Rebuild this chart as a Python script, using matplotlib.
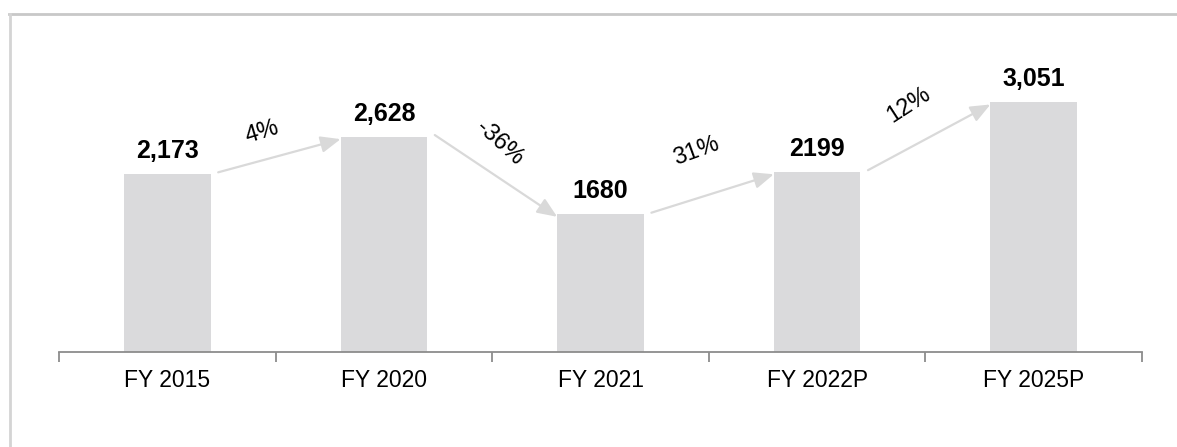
import matplotlib
matplotlib.use("Agg")
from matplotlib import pyplot as plt
import numpy as np

# data
categories = ['FY 2015', 'FY 2020', 'FY 2021', 'FY 2022P', 'FY 2025P']
values = [2173, 2628, 1680, 2199, 3051]
value_labels = ['2,173', '2,628', '1680', '2199', '3,051']
growth_labels = ['4%', '-36%', '31%', '12%']

# style
bar_color = '#dadadc'
arrow_color = '#d9d9d9'
text_rot = [17, -42, 20, 33]
text_off = [(-17, 23), (4, 33), (-16, 42), (-20, 32)]  # pixel offsets from arrow midpoint

plt.rcParams['font.family'] = ['Liberation Sans', 'DejaVu Sans']

fig = plt.figure(figsize=(11.77, 4.47), dpi=100)
# light frame round the chart (only top and left show)
fig.add_artist(plt.Line2D([9 / 1177, 1.0], [1 - 14 / 447, 1 - 14 / 447],
                          color='#c8c8c8', lw=2, transform=fig.transFigure))
fig.add_artist(plt.Line2D([9.5 / 1177, 9.5 / 1177], [0, 1 - 14 / 447],
                          color='#d4d4d4', lw=2, transform=fig.transFigure))

ax = fig.add_axes([59 / 1177, 95 / 447, (1142 - 59) / 1177, (352 - 30) / 447])
x = np.arange(len(categories))
width = 0.4
ax.bar(x, values, width=width, color=bar_color)
ax.set_xlim(-0.5, len(categories) - 0.5)
ax.set_ylim(0, 3930)

for xi, v, lab in zip(x, values, value_labels):
    ax.annotate(lab, (xi, v), xytext=(0, 8), textcoords='offset points',
                ha='center', va='bottom', fontsize=18, fontweight='bold')

for i, g in enumerate(growth_labels):
    x0, y0 = x[i] + width / 2 + 0.035, values[i] + 20
    x1, y1 = x[i + 1] - width / 2, values[i + 1] - 30
    ax.annotate('', xy=(x1, y1), xytext=(x0, y0),
                arrowprops=dict(arrowstyle='-|>,head_length=1.2,head_width=0.5',
                                color=arrow_color, lw=1.6, shrinkA=0, shrinkB=0))
    dx, dy = text_off[i]
    ax.annotate(g, ((x0 + x1) / 2, (y0 + y1) / 2), xytext=(dx * 0.72, dy * 0.72),
                textcoords='offset points', ha='center', va='center',
                fontsize=17, rotation=text_rot[i], rotation_mode='anchor')

for s in ['top', 'right', 'left']:
    ax.spines[s].set_visible(False)
ax.spines['bottom'].set_color('#8c8c8c')
ax.spines['bottom'].set_linewidth(1.3)
ax.set_yticks([])
ax.set_xticks(x)
ax.set_xticklabels(categories, fontsize=16.5)
ax.tick_params(axis='x', which='major', length=0, pad=12)
ax.set_xticks(np.arange(-0.5, len(categories)), minor=True)
ax.tick_params(axis='x', which='minor', length=7, width=1.3, color='#8c8c8c')

fig.savefig('out.png', dpi=100)
